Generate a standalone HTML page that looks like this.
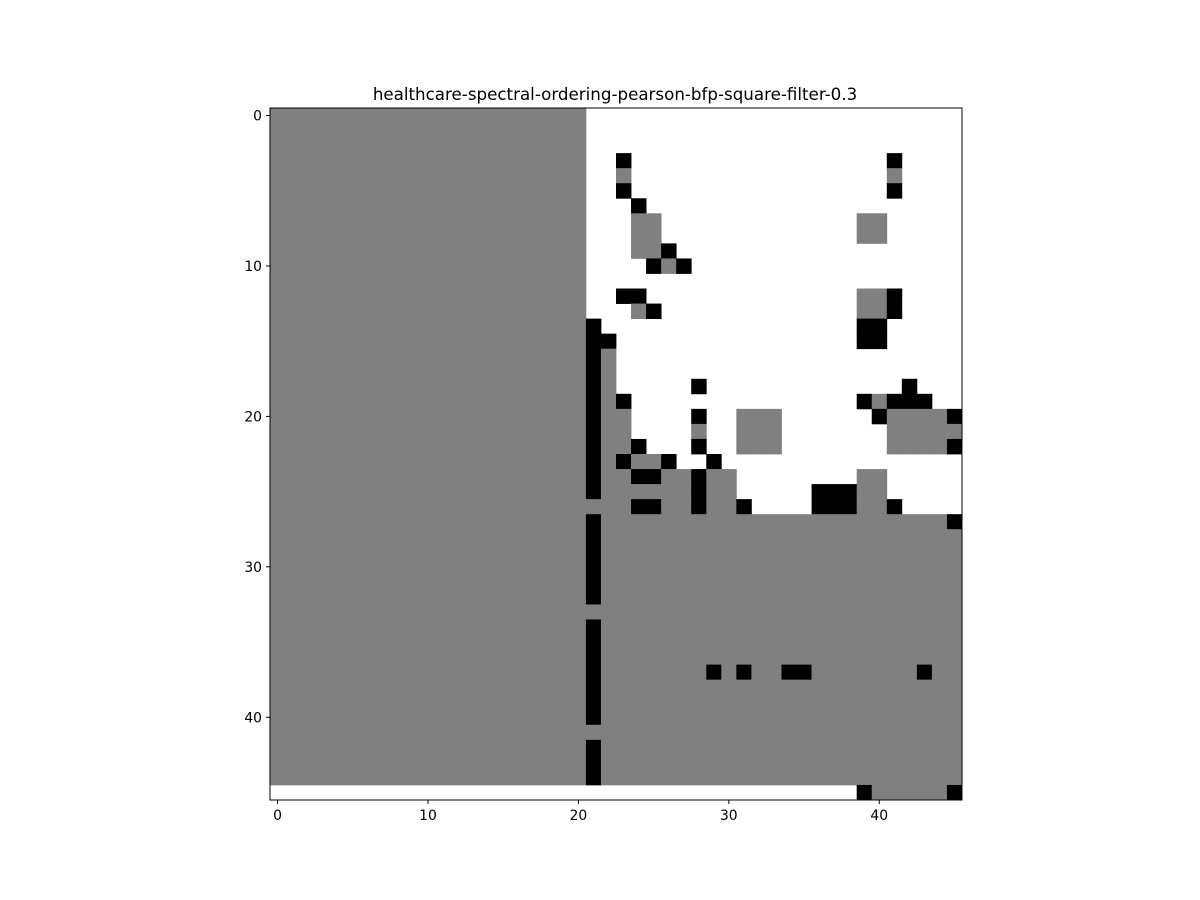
<!DOCTYPE html>
<html><head><meta charset="utf-8"><style>body{margin:0;background:#fff}svg{display:block}</style></head>
<body>
<svg id="chart" width="1200" height="900" xmlns="http://www.w3.org/2000/svg" font-family="DejaVu Sans, Liberation Sans, sans-serif">
<rect width="1200" height="900" fill="#fff"/>
<text x="615" y="100" text-anchor="middle" font-size="16.7">healthcare-spectral-ordering-pearson-bfp-square-filter-0.3</text>
<g id="cells"></g>
<rect x="270" y="108" width="692" height="692" fill="none" stroke="#000" stroke-width="1"/>
<g id="ticks"></g>
</svg>
<script>
// right part (cols 21-45): '.'=0 white, 'g'=1 gray, '#'=2 black
const rightRows = [
".........................",".........................",".........................",
"..#.................#....","..g.................g....","..#.................#....",
"...#.....................","...gg.............gg.....","...gg.............gg.....",
"...gg#...................","....#g#..................",".........................",
"..##..............gg#....","...g#.............gg#....","#.................##.....",
"##................##.....","#g.......................","#g.......................",
"#g.....#.............#...","#g#...............#g###..","#gg....#..ggg......#gggg#",
"#gg....g..ggg.......ggggg","#gg#...#..ggg.......gggg#","#g#gg#..#................",
"#gg##gg#gg........gg.....","#gggggg#gg.....###gg.....","ggg##gg#gg#....###gg#....",
"#ggggggggggggggggggggggg#",
"#gggggggggggggggggggggggg","#gggggggggggggggggggggggg","#gggggggggggggggggggggggg",
"#gggggggggggggggggggggggg","#gggggggggggggggggggggggg","ggggggggggggggggggggggggg",
"#gggggggggggggggggggggggg","#gggggggggggggggggggggggg","#gggggggggggggggggggggggg",
"#ggggggg#g#gg##ggggggg#gg","#gggggggggggggggggggggggg","#gggggggggggggggggggggggg",
"#gggggggggggggggggggggggg","ggggggggggggggggggggggggg","#gggggggggggggggggggggggg",
"#gggggggggggggggggggggggg","#gggggggggggggggggggggggg","..................#ggggg#"
];
const leftRows = Array.from({length:46},(_,r)=> r<45 ? "ggggggggggggggggggggg" : ".....................");
const xTicks = [0,10,20,30,40];
const yTicks = [0,10,20,30,40];
const N = 46, X0 = 270, Y0 = 108, W = 692;
const sx = c => X0 + c*W/N, sy = r => Y0 + r*W/N;
const colors = {'.':'#ffffff','g':'#808080','#':'#000000'};
const NS = "http://www.w3.org/2000/svg";
const cells = document.getElementById('cells');
for (let r=0;r<N;r++){
  const row = leftRows[r] + rightRows[r];
  for (let c=0;c<N;c++){
    const ch = row[c];
    if (ch==='.') continue;
    const el = document.createElementNS(NS,'rect');
    
    
    el.setAttribute('x', sx(c)); el.setAttribute('y', sy(r));
    el.setAttribute('width', W/N+0.4); el.setAttribute('height', W/N+0.4);
    el.setAttribute('fill', colors[ch]);
    cells.appendChild(el);
  }
}
const ticks = document.getElementById('ticks');
xTicks.forEach(v=>{
  const x = sx(v+0.5);
  const l = document.createElementNS(NS,'line');
  
  
  l.setAttribute('x1',x);l.setAttribute('x2',x);l.setAttribute('y1',800);l.setAttribute('y2',804);l.setAttribute('stroke','#000');
  ticks.appendChild(l);
  const t = document.createElementNS(NS,'text');
  
  
  t.setAttribute('x',x);t.setAttribute('y',820);t.setAttribute('text-anchor','middle');t.setAttribute('font-size','13.9');
  t.textContent=v; ticks.appendChild(t);
});
yTicks.forEach(v=>{
  const y = sy(v+0.5);
  const l = document.createElementNS(NS,'line');
  
  
  l.setAttribute('x1',266);l.setAttribute('x2',270);l.setAttribute('y1',y);l.setAttribute('y2',y);l.setAttribute('stroke','#000');
  ticks.appendChild(l);
  const t = document.createElementNS(NS,'text');
  
  
  t.setAttribute('x',262);t.setAttribute('y',y+5);t.setAttribute('text-anchor','end');t.setAttribute('font-size','13.9');
  t.textContent=v; ticks.appendChild(t);
});
</script>
</body></html>
